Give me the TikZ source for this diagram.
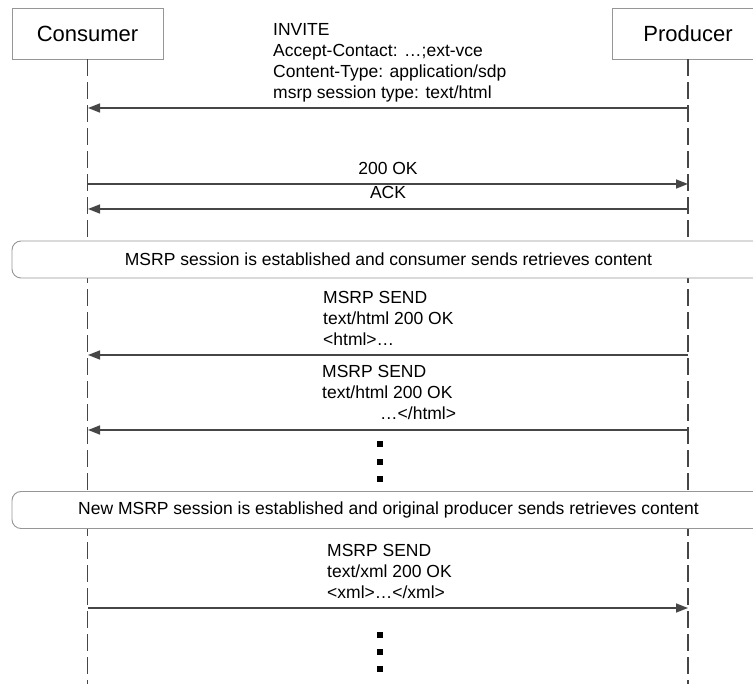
\documentclass[tikz,border=0pt]{standalone}
\usepackage{fontspec}
\setmainfont{Liberation Sans}
\usetikzlibrary{arrows.meta,calc}
\definecolor{framegray}{RGB}{150,150,150}
\definecolor{linegray}{RGB}{70,70,70}
\begin{document}
\begin{tikzpicture}[x=1pt,y=-1pt,
  actor/.style={draw=framegray, line width=0.9pt, fill=white, minimum width=151pt,
    minimum height=51pt, inner sep=0pt, font=\fontsize{22}{26}\selectfont},
  lifeline/.style={draw=linegray, line width=1.6pt, dash pattern=on 17pt off 6pt},
  msg/.style={draw=linegray, line width=1.6pt, -{Triangle[length=12pt,width=9pt]}},
  msglabel/.style={font=\fontsize{17.5}{21}\selectfont, align=left, inner sep=0pt, anchor=base west},
  banner/.style={draw=framegray, fill=white, rounded corners=9pt, line width=0.9pt,
    minimum width=753pt, minimum height=37pt, inner sep=0pt, font=\fontsize{17.5}{21}\selectfont},
  dot/.style={fill=black, minimum size=6pt, inner sep=0pt}
]
\useasboundingbox (0,0) rectangle (753,684);
\clip (0,0) rectangle (753,684);

% participants
\node[actor] (consumer) at (87.5,33.5) {Consumer};
\node[actor] (producer) at (688,33.5) {Producer};
\coordinate (bottom) at (388,690);

% lifelines
\draw[lifeline] (consumer.south) -- (consumer.south |- bottom);
\draw[lifeline] (producer.south) -- (producer.south |- bottom);

% INVITE (labels are placed by the baseline of their last line)
\coordinate (c1) at (88,108);  \coordinate (p1) at (688,108);
\draw[msg] (p1) -- (c1);
\node[msglabel] (invite) at (273,99) {INVITE\\Accept-Contact: …;ext-vce\\Content-Type: application/sdp\\msrp session type: text/html};

% 200 OK / ACK
\coordinate (c2) at (88,184);  \coordinate (p2) at (688,184);
\draw[msg] (c2) -- (p2);
\node[msglabel, anchor=base] (ok) at (388,175) {200 OK};
\coordinate (c3) at (88,209);  \coordinate (p3) at (688,209);
\draw[msg] (p3) -- (c3);
\node[msglabel, anchor=base] (ack) at (388,199) {ACK};

% first session
\node[banner] (session1) at (388.5,259.5) {MSRP session is established and consumer sends retrieves content};

\coordinate (c4) at (88,355);  \coordinate (p4) at (688,355);
\draw[msg] (p4) -- (c4);
\node[msglabel] (send1) at (323,346) {MSRP SEND\\text/html 200 OK\\<html>…};

\coordinate (c5) at (88,430);  \coordinate (p5) at (688,430);
\draw[msg] (p5) -- (c5);
\node[msglabel] (send2) at (322,420) {MSRP SEND\\text/html 200 OK\\\hspace*{58pt}…</html>};

\node[dot] (d1) at (380,444) {};
\node[dot] (d2) at (380,462) {};
\node[dot] (d3) at (380,479) {};

% second session
\node[banner] (session2) at (388.5,510) {New MSRP session is established and original producer sends retrieves content};

\coordinate (c6) at (88,608);  \coordinate (p6) at (688,608);
\draw[msg] (c6) -- (p6);
\node[msglabel] (send3) at (327,598) {MSRP SEND\\text/xml 200 OK\\<xml>…</xml>};

\node[dot] (d4) at (380,635) {};
\node[dot] (d5) at (380,652) {};
\node[dot] (d6) at (380,669) {};
\end{tikzpicture}
\end{document}
